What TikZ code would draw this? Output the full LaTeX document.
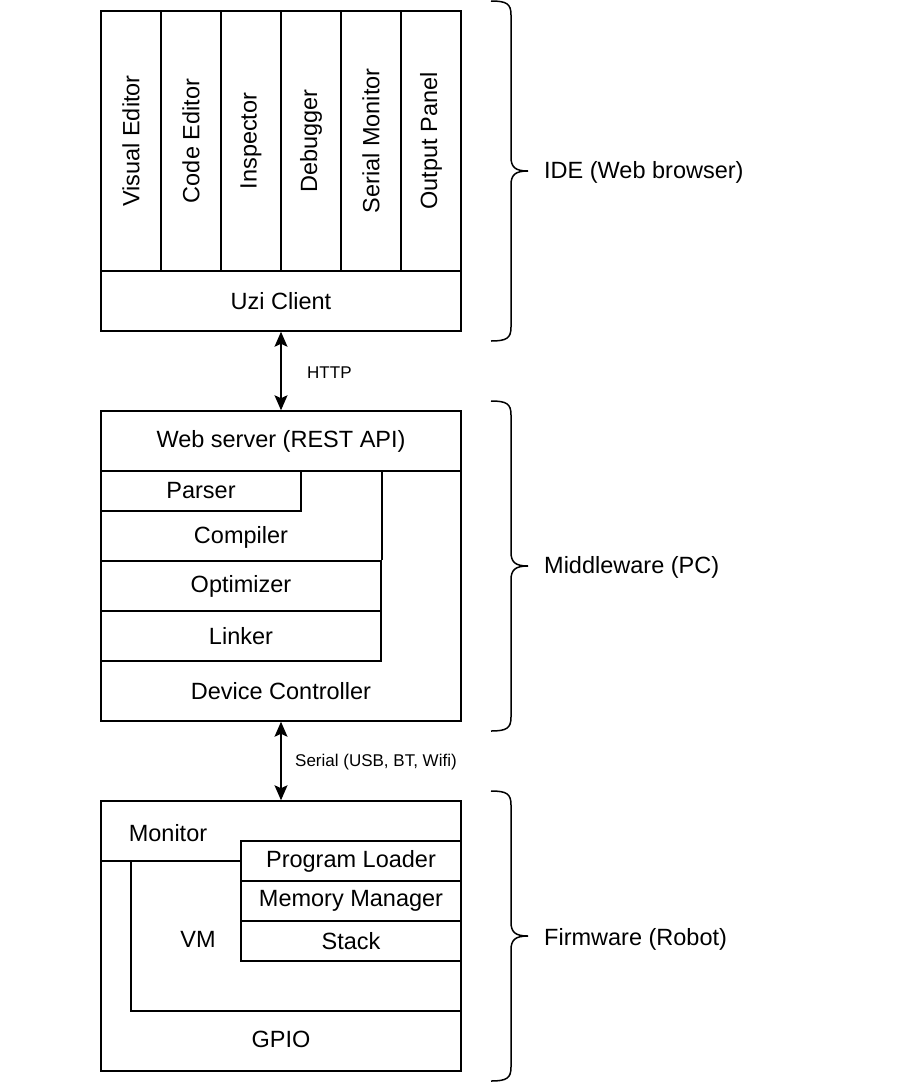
\documentclass[tikz,border=0pt]{standalone}
\usepackage{fontspec}
\setmainfont{Liberation Sans}
\usetikzlibrary{arrows.meta}
\newcommand{\mybracedraw}[3]{% top, mid, bottom
  \draw[brace] (491,#1) .. controls (507,#1) and (511,{#1+3}) .. (511,{#1+14})
    -- (511,{#2-14}) .. controls (511,{#2-4}) and (515,#2) .. (528,#2)
    .. controls (515,#2) and (511,{#2+4}) .. (511,{#2+14})
    -- (511,{#3-14}) .. controls (511,{#3-3}) and (507,#3) .. (491,#3);}
\begin{document}
\begin{tikzpicture}[x=1pt,y=-1pt,
  ln/.style={line width=1.5pt},
  box/.style={draw,ln,inner sep=0pt,font=\fontsize{23.5}{27}\selectfont},
  txt/.style={inner sep=0pt,font=\fontsize{23.5}{27}\selectfont},
  small/.style={inner sep=0pt,font=\fontsize{17}{20}\selectfont},
  col/.style={box,minimum width=60pt,minimum height=260pt},
  brace/.style={line width=1.5pt},
  conn/.style={line width=1.5pt,{Stealth[length=15pt,width=13pt,inset=3pt]}-{Stealth[length=15pt,width=13pt,inset=3pt]}}]
\useasboundingbox (0,0) rectangle (904,1082);
% IDE
\node[box,minimum width=360pt,minimum height=320pt] (ide) at (281,171) {};
\foreach \n/\x/\t in {ve/131/Visual Editor,ce/191/Code Editor,ins/251/Inspector,dbg/311/Debugger,sm/371/Serial Monitor,op/431/Output Panel}{
  \node[col] (\n) at (\x,141) {};
  \node[txt,rotate=90] (\n-t) at (\x,141) {\t};
}
\node[box,minimum width=360pt,minimum height=60pt] (uzi) at (281,301) {Uzi Client};
% Middleware
\node[box,minimum width=360pt,minimum height=310pt] (mw) at (281,566) {};
\node[box,minimum width=360pt,minimum height=60pt] (web) at (281,441) {Web server (REST API)};
\node[box,minimum width=200pt,minimum height=40pt] (parser) at (201,491) {Parser};
\node[box,minimum width=280pt,minimum height=50pt] (opt) at (241,586) {Optimizer};
\node[box,minimum width=280pt,minimum height=50pt] (lnk) at (241,636) {Linker};
\draw[ln] (web.south -| opt.east) -- (opt.north east);
\node[txt] (comp) at (241,537) {Compiler};
\node[txt] (dev) at (281,691) {Device Controller};
% Firmware
\node[box,minimum width=360pt,minimum height=270pt] (fw) at (281,936) {};
\node[box,minimum width=220pt,minimum height=40pt] (loader) at (351,861) {Program Loader};
\node[box,minimum width=220pt,minimum height=40pt] (mem) at (351,901) {Memory Manager};
\node[box,minimum width=220pt,minimum height=40pt] (stack) at (351,941) {Stack};
\coordinate (vmc) at (131,1011);
\draw[ln] (fw.west |- loader.east) -- (loader.west);
\draw[ln] (131,861) -- (vmc) -- (vmc -| fw.east);
\node[txt] (mon) at (168,833) {Monitor};
\node[txt] (vm) at (198,939) {VM};
\node[txt] (gpio) at (281,1039) {GPIO};
% connectors
\draw[conn] (uzi.south) -- (web.north);
\node[small,anchor=west] (http) at (307,373) {HTTP};
\draw[conn] (mw.south) -- (fw.north);
\node[small,anchor=west] (ser) at (295,762) {Serial (USB, BT, Wifi)};
% braces
\mybracedraw{1}{171}{341}
\mybracedraw{401}{566}{731}
\mybracedraw{791}{936}{1081}
\node[txt,anchor=west] (l1) at (544,172) {IDE (Web browser)};
\node[txt,anchor=west] (l2) at (544,567) {Middleware (PC)};
\node[txt,anchor=west] (l3) at (544,939) {Firmware (Robot)};
\end{tikzpicture}
\end{document}
